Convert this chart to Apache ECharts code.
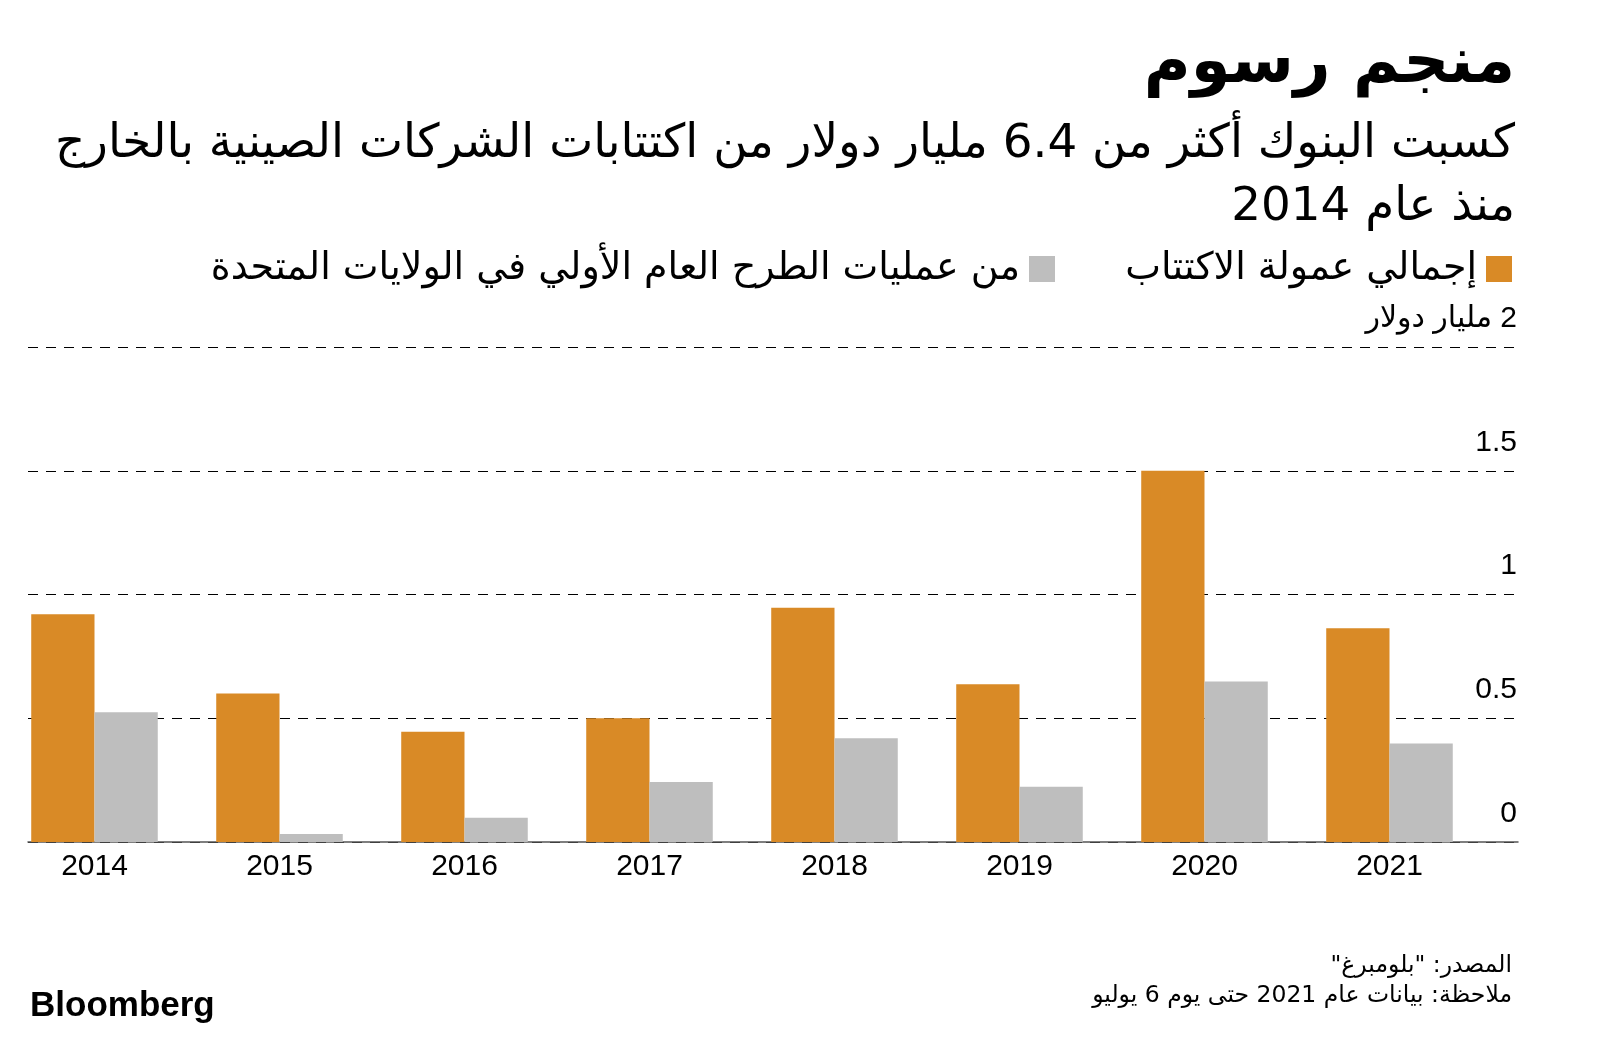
<!DOCTYPE html>
<html dir="rtl">
<head>
<meta charset="utf-8">
<script src="https://cdn.jsdelivr.net/npm/echarts@6/dist/echarts.min.js"></script>
<style>
html,body{margin:0;padding:0;background:#fff;}
#chart{width:1600px;height:1038px;}
</style>
</head>
<body>
<div id="chart"></div>
<script>
const years = ['2014','2015','2016','2017','2018','2019','2020','2021'];
const totalFees = [0.92, 0.60, 0.445, 0.50, 0.946, 0.637, 1.50, 0.864];
const usIpoFees = [0.524, 0.032, 0.098, 0.242, 0.419, 0.223, 0.648, 0.398];
const yTicks = [0, 0.5, 1, 1.5, 2];
const titleText = 'منجم رسوم';
const subtitleText = 'كسبت البنوك أكثر من 6.4 مليار دولار من اكتتابات الشركات الصينية بالخارج\nمنذ عام 2014';
const seriesNames = ['إجمالي عمولة الاكتتاب', 'من عمليات الطرح العام الأولي في الولايات المتحدة'];
const unitLabel = 'مليار دولار';
const footerText = 'المصدر: "بلومبرغ"\nملاحظة: بيانات عام 2021 حتى يوم 6 يوليو';
const brandText = 'Bloomberg';

const AR = "'DejaVu Sans', sans-serif";
const NUM = "'Liberation Sans', 'DejaVu Sans', sans-serif";
const ORANGE = '#D98A26';
const GRAY = '#BEBEBE';

const chart = echarts.init(document.getElementById('chart'), null, {renderer: 'canvas'});
chart.setOption({
  backgroundColor: '#ffffff',
  animation: false,
  graphic: [
    {type: 'text', x: 1515, y: 33, style: {text: titleText, textAlign: 'right', textVerticalAlign: 'top',
      font: "bold 64px 'DejaVu Sans', sans-serif", fill: '#000'}},
    {type: 'text', x: 1515, y: 113, style: {text: subtitleText, textAlign: 'right', textVerticalAlign: 'top',
      font: "46.8px 'DejaVu Sans', sans-serif", lineHeight: 63, fill: '#000'}},
    {type: 'text', x: 1512, y: 951, style: {text: footerText, textAlign: 'right', textVerticalAlign: 'top',
      font: "23.5px 'DejaVu Sans', sans-serif", lineHeight: 30, fill: '#000'}},
    {type: 'text', x: 30, y: 989, style: {text: brandText, textAlign: 'left', textVerticalAlign: 'top',
      font: "bold 35px 'Liberation Sans', sans-serif", fill: '#000'}}
  ],
  legend: [
    {data: [seriesNames[0]], right: 83, top: 245, itemWidth: 26, itemHeight: 26, align: 'right', icon: 'rect',
     textStyle: {fontFamily: AR, fontSize: 38, color: '#000', padding: [0, 4, 0, 0]}},
    {data: [seriesNames[1]], right: 540, top: 245, itemWidth: 26, itemHeight: 26, align: 'right', icon: 'rect',
     textStyle: {fontFamily: AR, fontSize: 38, color: '#000', padding: [0, 4, 0, 0]}}
  ],
  grid: [
    {left: 2, width: 1480, top: 347, height: 495},
    {left: 28, width: 1490, top: 347, height: 495}
  ],
  xAxis: [
    {type: 'category', gridIndex: 0, data: years,
     axisLine: {show: false}, axisTick: {show: false},
     axisLabel: {fontFamily: NUM, fontSize: 30, color: '#000', margin: 10}},
    {type: 'value', gridIndex: 1, min: 0, max: 1, position: 'bottom',
     axisLine: {show: true, onZero: false, lineStyle: {color: '#555', width: 1.5}},
     axisTick: {show: false}, axisLabel: {show: false}, splitLine: {show: false}}
  ],
  yAxis: [
    {type: 'value', gridIndex: 0, min: 0, max: 2, show: false},
    {type: 'value', gridIndex: 1, min: 0, max: 2, interval: 0.5, position: 'right',
     axisLine: {show: false}, axisTick: {show: false},
     splitLine: {show: true, lineStyle: {type: [10, 8], color: '#000', width: 1}},
     axisLabel: {inside: true, margin: 1, fontFamily: NUM, fontSize: 30, color: '#000',
       verticalAlign: 'bottom', lineHeight: 57,
       formatter: function (v) { return v === yTicks[4] ? v + ' ' + unitLabel : String(v); }}}
  ],
  series: [
    {name: seriesNames[0], type: 'bar', xAxisIndex: 0, yAxisIndex: 0, data: totalFees,
     itemStyle: {color: ORANGE}, barGap: '0%', barCategoryGap: '31.6%'},
    {name: seriesNames[1], type: 'bar', xAxisIndex: 0, yAxisIndex: 0, data: usIpoFees,
     itemStyle: {color: GRAY}, barGap: '0%', barCategoryGap: '31.6%'}
  ]
});
</script>
</body>
</html>
